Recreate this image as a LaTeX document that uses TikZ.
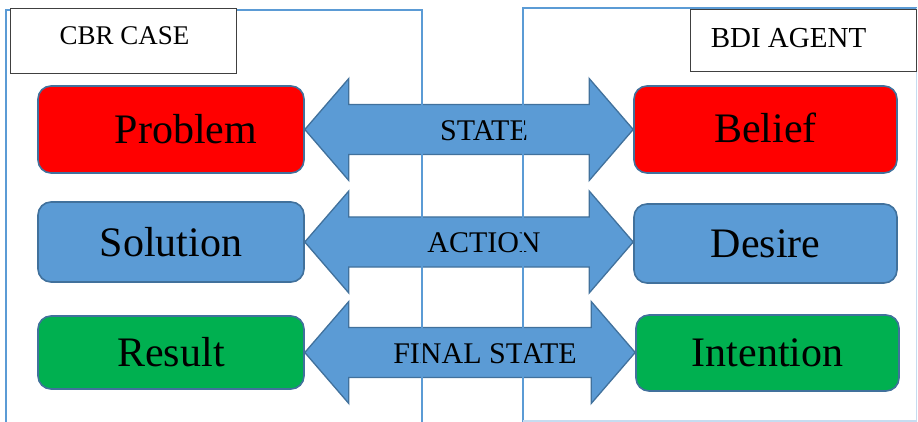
\documentclass[tikz,border=0pt]{standalone}
\usepackage{fontspec}
\setmainfont{Liberation Serif}
\usepackage{tikz}
\usetikzlibrary{calc}
\usepackage{xcolor}
\definecolor{officeblue}{HTML}{5B9BD5}
\definecolor{officeedge}{HTML}{41719C}
\definecolor{officegreen}{HTML}{00B050}

\tikzset{
  partbox/.style={draw=officeedge, line width=1.6pt, rounded corners=13pt,
    inner sep=0pt, font=\fontsize{42}{48}\selectfont},
  titlebox/.style={draw=black!75, line width=1pt, fill=white, inner sep=0pt, text depth=#1},
  linkarrow/.style={fill=officeblue, draw=officeedge, line width=1.3pt, line join=miter},
  linktext/.style={font=\fontsize{30}{34}\selectfont},
  frame/.style={draw=officeblue, line width=1.6pt}
}

% two-headed arrow from box #1 to box #2, labelled #3
\newcommand{\twoway}[3]{%
  \coordinate (l) at (#1.east);
  \coordinate (r) at (#1.east -| #2.west);
  \filldraw[linkarrow] (l) -- ++(44,-51) -- ++(0,26) -- ($(r)+(-44,-25)$) -- ++(0,-26)
    -- (r) -- ++(-44,51) -- ++(0,-26) -- ($(l)+(44,25)$) -- ++(0,26) -- cycle;
  \node[linktext] at ($(l)!.5!(r)+(15,1)$) {#3};
}

\begin{document}
\begin{tikzpicture}[x=1pt,y=-1pt]
\useasboundingbox (0,0) rectangle (918,422);

% case side
\node[partbox, fill=red, minimum width=266pt, minimum height=87pt] (prob) at (171,129.5) {\hspace*{30pt}Problem};
\node[partbox, fill=officeblue, minimum width=266pt, minimum height=80pt] (sol) at (171,242) {Solution};
\node[partbox, fill=officegreen, minimum width=266pt, minimum height=73pt] (res) at (171,352.5) {Result};
% agent side
\node[partbox, fill=red, minimum width=263pt, minimum height=87pt] (bel) at (765.5,129.5) {\raisebox{3pt}{Belief}};
\node[partbox, fill=officeblue, minimum width=263pt, minimum height=79pt] (des) at (765.5,243.5) {Desire};
\node[partbox, fill=officegreen, minimum width=263pt, minimum height=76pt] (int) at (767.5,353) {Intention};

\twoway{prob}{bel}{STATE}
\twoway{sol}{des}{ACTION}
\twoway{res}{int}{FINAL STATE}

% the two frames
\draw[frame] (6,423) -- (6,10) -- (422,10) -- (422,423);
\draw[frame] (523,423) -- (523,8) -- (916.5,8);
\draw[frame, draw=officeblue!35] (916.5,8) -- (916.5,421) -- (523,421);

\node[titlebox=11pt, minimum width=226pt, minimum height=65pt, font=\fontsize{27}{32}\selectfont]
  (cbr) at (123,41.5) {CBR CASE\hspace*{-3pt}};
\node[titlebox=7pt, minimum width=226pt, minimum height=62pt, font=\fontsize{29}{34}\selectfont]
  (bdi) at (803.5,41) {BDI AGENT\hspace*{30pt}};
\end{tikzpicture}
\end{document}
